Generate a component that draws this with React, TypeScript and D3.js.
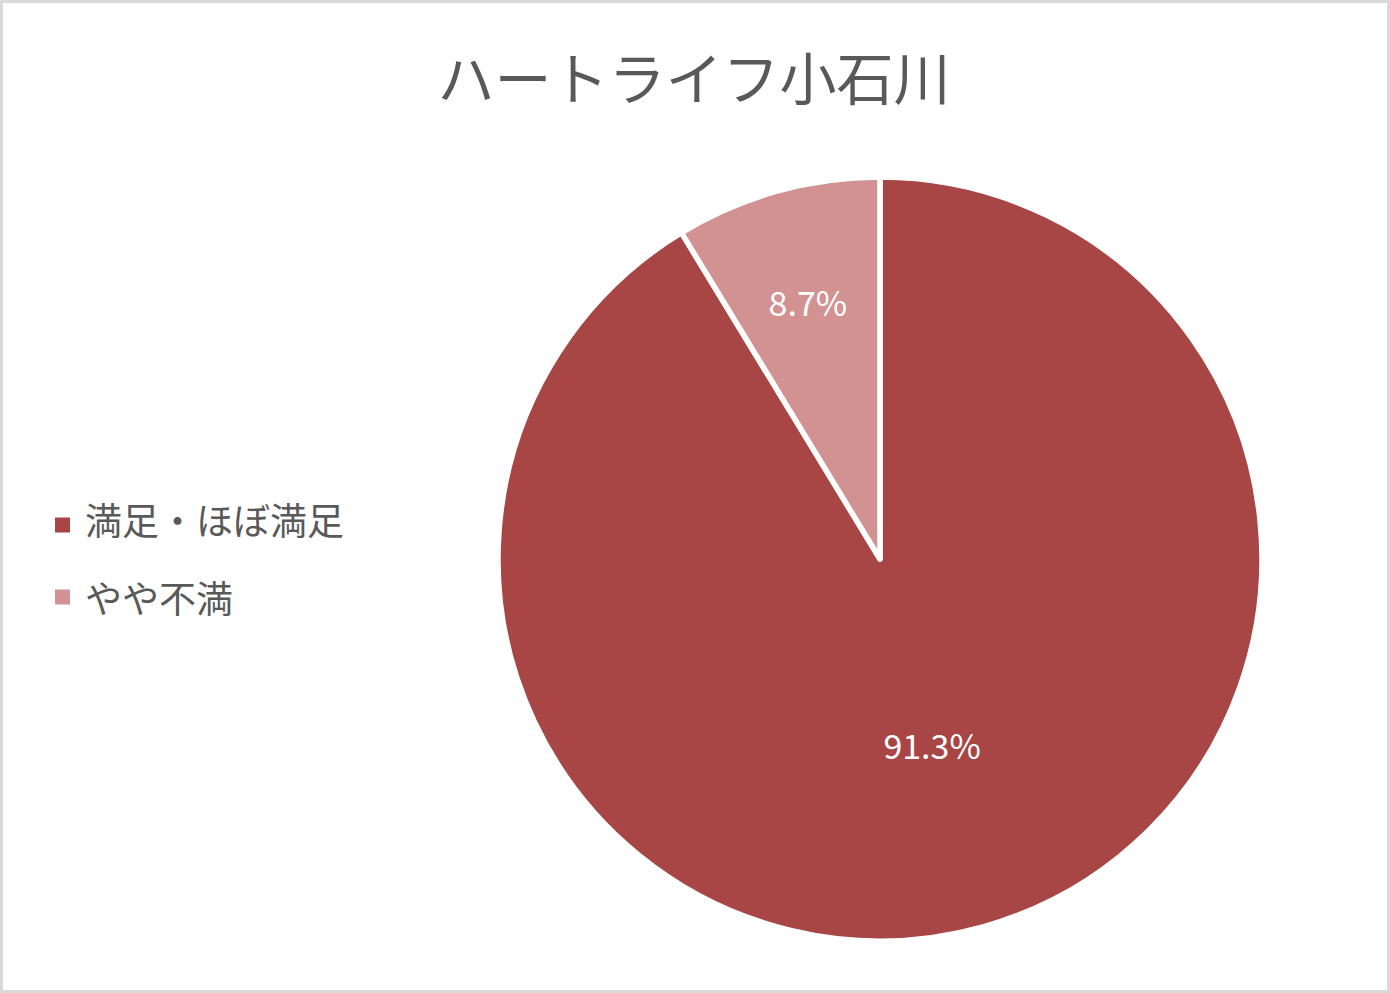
import React, { useEffect, useRef } from 'react';
import * as d3 from 'd3';

const title = 'ハートライフ小石川';
const categories = ['満足・ほぼ満足', 'やや不満'];
const values = [91.3, 8.7];
const colors = ['#A84646', '#D29292'];

const App: React.FC = () => {
    const svgRef = useRef<SVGSVGElement | null>(null);

    useEffect(() => {
        const width = 1390;
        const height = 993;
        const svg = d3.select(svgRef.current);
        svg.selectAll('*').remove();
        svg.attr('width', width).attr('height', height);

        const font = '"Noto Sans CJK JP", "Noto Sans", sans-serif';

        // frame
        svg.append('rect')
            .attr('x', 1.5).attr('y', 1.5)
            .attr('width', width - 3).attr('height', height - 3)
            .attr('fill', '#ffffff')
            .attr('stroke', '#D9D9D9')
            .attr('stroke-width', 3);

        svg.append('text')
            .attr('x', 694)
            .attr('y', 75)
            .attr('text-anchor', 'middle')
            .attr('dominant-baseline', 'central')
            .attr('font-family', font)
            .attr('font-size', 57)
            .attr('fill', '#595959')
            .text(title);

        const data = categories.map((c, i) => ({ label: c, value: values[i] }));
        type D = { label: string; value: number };
        const radius = 382;
        const g = svg.append('g').attr('transform', 'translate(880,559)');

        const pie = d3.pie<D>().sort(null).value(d => d.value);
        const arc = d3.arc<d3.PieArcDatum<D>>().innerRadius(0).outerRadius(radius);
        const arcs = pie(data);

        g.selectAll('path')
            .data(arcs)
            .enter()
            .append('path')
            .attr('d', arc)
            .attr('fill', (_, i) => colors[i])
            .attr('stroke', '#ffffff')
            .attr('stroke-width', 5.5)
            .attr('stroke-linejoin', 'round');

        // labels sit at different depths like Excel's best-fit
        const labelRatio = [0.505, 0.70];
        g.selectAll('text.lbl')
            .data(arcs)
            .enter()
            .append('text')
            .attr('class', 'lbl')
            .attr('transform', (d, i) => {
                const r = radius * labelRatio[i];
                const c = d3.arc<d3.PieArcDatum<D>>().innerRadius(r).outerRadius(r).centroid(d);
                return `translate(${c})`;
            })
            .attr('text-anchor', 'middle')
            .attr('dominant-baseline', 'central')
            .attr('font-family', font)
            .attr('font-size', 34)
            .attr('fill', '#ffffff')
            .text(d => `${d.data.value.toFixed(1)}%`);

        // legend
        const legendY = d3.scalePoint<string>().domain(categories).range([519, 597]);
        const legend = svg.append('g');
        categories.forEach((c, i) => {
            const y = legendY(c) || 0;
            legend.append('rect')
                .attr('x', 55)
                .attr('y', y - 7.5 + (i === 0 ? 6 : 0))
                .attr('width', 15)
                .attr('height', 15)
                .attr('fill', colors[i]);
            legend.append('text')
                .attr('x', 85)
                .attr('y', y)
                .attr('dominant-baseline', 'central')
                .attr('font-family', font)
                .attr('font-size', 37)
                .attr('fill', '#595959')
                .text(c);
        });
    }, []);

    return <svg ref={svgRef} style={{ display: 'block', position: 'absolute', left: 0, top: 0 }}></svg>;
};

export default App;
